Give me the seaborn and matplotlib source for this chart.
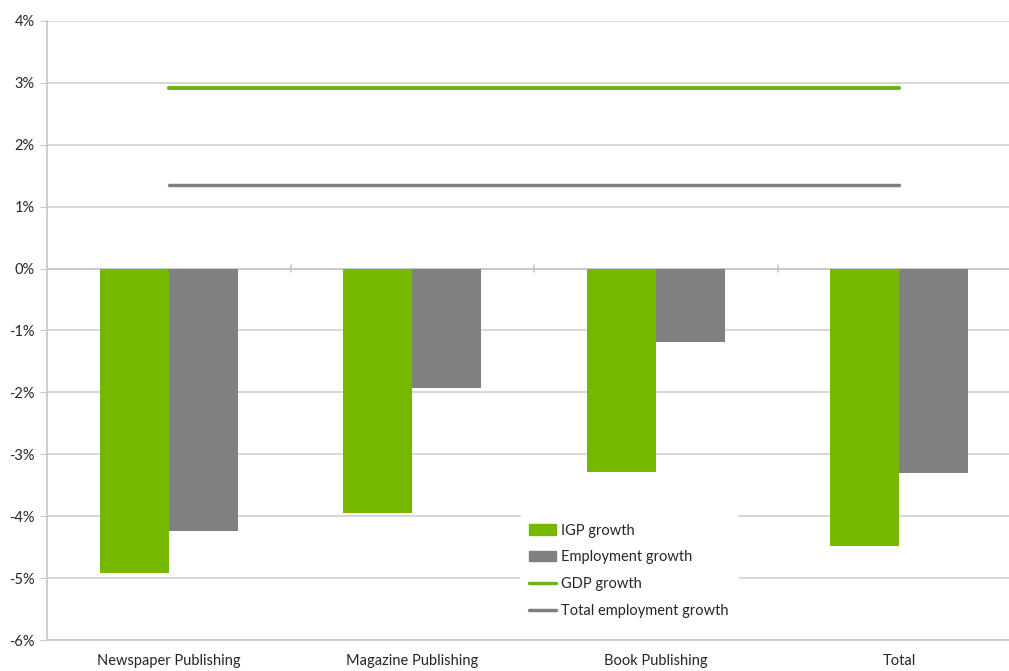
import matplotlib

matplotlib.use("Agg")
import matplotlib.pyplot as plt
import matplotlib.ticker as mticker
import pandas as pd
import seaborn as sns
from matplotlib.lines import Line2D
from matplotlib.patches import Patch

categories = ["Newspaper Publishing", "Magazine Publishing", "Book Publishing", "Total"]
igp_growth = [-4.91, -3.94, -3.28, -4.48]
employment_growth = [-4.23, -1.93, -1.19, -3.30]
gdp_growth = 2.92
total_employment_growth = 1.35

GREEN = "#76b800"
GRAY = "#808080"

df = pd.DataFrame(
    {
        "category": categories * 2,
        "value": igp_growth + employment_growth,
        "series": ["IGP growth"] * 4 + ["Employment growth"] * 4,
    }
)

sns.set_style("white")
plt.rcParams["font.family"] = ["Lato", "DejaVu Sans"]

fig = plt.figure(figsize=(10.09, 6.71), dpi=100)
ax = fig.add_axes([0.0466, 0.046, 0.9654, 0.923])

sns.barplot(
    data=df,
    x="category",
    y="value",
    hue="series",
    palette=[GREEN, GRAY],
    width=0.567,
    saturation=1,
    linewidth=0,
    ax=ax,
    zorder=3,
    legend=False,
)

# horizontal reference lines from first to last category center
ax.plot([0, len(categories) - 1], [gdp_growth] * 2, color="#6db31c", lw=3, zorder=4)
ax.plot([0, len(categories) - 1], [total_employment_growth] * 2, color="#7f7f7f",
        lw=2.5, zorder=4)

ax.set_ylim(-6, 4)
ax.set_xlim(-0.5, len(categories) - 0.5)
ax.yaxis.set_major_locator(mticker.MultipleLocator(1))
ax.yaxis.set_major_formatter(mticker.FuncFormatter(lambda v, _: f"{v:.0f}%"))
ax.grid(axis="y", color="#d4d4d4", lw=1.3, zorder=0)
ax.axhline(0, color="#c8c8c8", lw=1.3, zorder=2)
# category divider ticks on the zero line
for b in range(1, len(categories)):
    ax.plot([b - 0.5, b - 0.5], [-0.06, 0.06], color="#c8c8c8", lw=1.2, zorder=2)

ax.set_xlabel("")
ax.set_ylabel("")
for side in ["top", "right"]:
    ax.spines[side].set_visible(False)
for side in ["left", "bottom"]:
    ax.spines[side].set_color("#c8c8c8")
    ax.spines[side].set_linewidth(1.3)
ax.tick_params(axis="y", length=5, color="#c8c8c8", labelsize=10.5, pad=4, left=True)
ax.tick_params(axis="x", length=0, labelsize=10.5, pad=10)

handles = [
    Patch(color=GREEN, label="IGP growth"),
    Patch(color=GRAY, label="Employment growth"),
    Line2D([], [], color="#6db31c", lw=2.5, label="GDP growth"),
    Line2D([], [], color="#7f7f7f", lw=2.5, label="Total employment growth"),
]
leg = ax.legend(
    handles=handles,
    loc="upper left",
    bbox_to_anchor=(0.478, 0.214),
    frameon=True,
    fontsize=10.5,
    handlelength=1.9,
    handleheight=0.7,
    labelspacing=0.88,
    handletextpad=0.35,
    borderpad=0.6,
)
leg.get_frame().set_facecolor("white")
leg.get_frame().set_edgecolor("white")
leg.get_frame().set_alpha(1)
leg.set_zorder(5)

fig.savefig("out.png", dpi=100)
